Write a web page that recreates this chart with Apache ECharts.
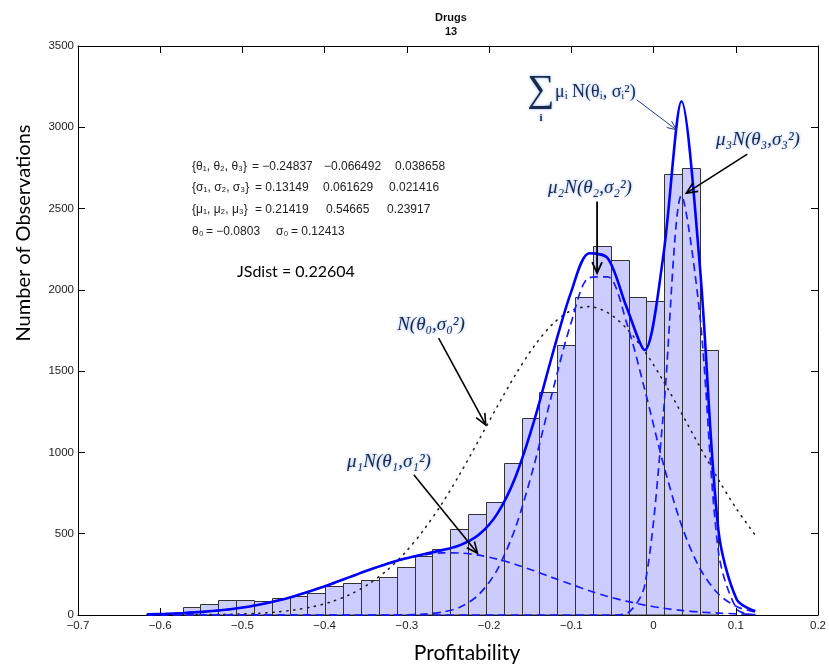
<!DOCTYPE html>
<html><head><meta charset="utf-8">
<script src="https://cdn.jsdelivr.net/npm/echarts@6/dist/echarts.min.js"></script>
<style>html,body{margin:0;padding:0;background:#fff}#c{width:829px;height:664px}</style>
</head><body><div id="c"></div>
<script>
// ---- data ----
const binEdges = [-0.5728,-0.5511,-0.5294,-0.5077,-0.4860,-0.4643,-0.4426,-0.4209,-0.3992,-0.3775,-0.3558,-0.3341,-0.3124,-0.2907,-0.2690,-0.2473,-0.2256,-0.2039,-0.1822,-0.1605,-0.1388,-0.1171,-0.0954,-0.0737,-0.0520,-0.0303,-0.0086,0.0131,0.0348,0.0565,0.0782];
const binCounts = [52,70,92,92,84,106,116,137,177,194,214,235,293,363,406,529,621,693,937,1214,1370,1660,1955,2267,2181,1953,1932,2712,2749,1629];
const xKnots = [-0.6162,-0.5938,-0.5714,-0.5489,-0.5265,-0.5041,-0.4817,-0.4593,-0.4368,-0.4144,-0.3920,-0.3696,-0.3472,-0.3247,-0.3023,-0.2799,-0.2575,-0.2351,-0.2126,-0.1902,-0.1678,-0.1454,-0.1229,-0.1005,-0.0781,-0.0557,-0.0332,-0.0108,0.0116,0.0340,0.0564,0.0789,0.1013,0.1237];
const mixTotal = [4,7,12,19,29,43,62,86,116,152,191,233,275,314,347,374,399,430,493,622,851,1192,1604,1983,2225,2195,1899,1630,2200,3160,2140,520,94,23];
const comp1 = [4,7,12,19,29,43,62,86,116,152,191,233,275,314,346,369,382,381,368,344,311,272,230,189,149,114,85,61,42,28,18,12,7,4];
const comp2 = [0,0,0,0,0,0,0,0,0,0,0,0,0,0,1,5,17,49,125,278,540,920,1374,1794,2075,2080,1805,1388,935,552,286,129,51,18];
const comp3 = [0,0,0,0,0,0,0,0,0,0,0,0,0,0,0,0,0,0,0,0,0,0,0,0,0,0,9,181,1220,2580,1840,390,36,1];
const singleNormal = [0,0,1,2,3,6,10,18,31,51,81,125,188,273,383,521,684,871,1075,1282,1479,1653,1789,1872,1897,1860,1765,1622,1442,1241,1034,833,650,491];
const xTicks = {min:-0.7, max:0.2, step:0.1};
const yTicks = {min:0, max:3500, step:500};

const pairs = arr => xKnots.map((x,i)=>[x, arr[i]]);
const fmtX = v => { const r = Math.round(v*10)/10; if (Math.abs(r) < 1e-9) return '0'; return (r<0?'\u2212':'') + Math.abs(r).toFixed(1); };

const chart = echarts.init(document.getElementById('c'), null, {renderer:'canvas'});
const axisFont = {fontFamily:'Liberation Sans', fontSize:11.5, color:'#222'};
const tickStyle = {show:true, inside:true, length:7, lineStyle:{color:'#000', width:1}};
const lineAx = {show:true, onZero:false, lineStyle:{color:'#000', width:1}};

chart.setOption({
  animation:false,
  backgroundColor:'#fff',
  grid:{left:78, right:4, top:46, bottom:49, containLabel:false},
  xAxis:[
    {type:'value', position:'bottom', min:xTicks.min, max:xTicks.max, interval:xTicks.step, axisLine:lineAx, axisTick:tickStyle, splitLine:{show:false},
     axisLabel:Object.assign({margin:5, formatter:fmtX}, axisFont)},
    {type:'value', position:'top', min:xTicks.min, max:xTicks.max, interval:xTicks.step, axisLine:lineAx, axisTick:tickStyle, splitLine:{show:false}, axisLabel:{show:false}}
  ],
  yAxis:[
    {type:'value', position:'left', min:yTicks.min, max:yTicks.max, interval:yTicks.step, axisLine:lineAx, axisTick:tickStyle, splitLine:{show:false},
     axisLabel:Object.assign({margin:4, formatter:v=>String(v)}, axisFont)},
    {type:'value', position:'right', min:yTicks.min, max:yTicks.max, interval:yTicks.step, axisLine:lineAx, axisTick:tickStyle, splitLine:{show:false}, axisLabel:{show:false}}
  ],
  series:[
    {type:'custom', xAxisIndex:0, yAxisIndex:0, z:1,
     data: binCounts.map((c,i)=>[binEdges[i], binEdges[i+1], c]),
     encode:{x:[0,1], y:2},
     renderItem:(params, api)=>{
       const p0 = api.coord([api.value(0), api.value(2)]);
       const p1 = api.coord([api.value(1), 0]);
       const x0 = Math.round(p0[0])+0.5, x1 = Math.round(p1[0])+0.5, y0 = Math.round(p0[1])+0.5, y1 = p1[1];
       return {type:'rect', shape:{x:x0, y:y0, width:x1-x0, height:y1-y0},
               style:{fill:'#ccccff', stroke:'#333', lineWidth:1}};
     }},
    {type:'line', data:pairs(singleNormal), showSymbol:false, smooth:0.3, z:3,
     lineStyle:{color:'#222', width:1.6, type:[1.2,5.8], cap:'round'}},
    {type:'line', data:pairs(comp1), showSymbol:false, smooth:0.3, z:4,
     lineStyle:{color:'#1a1aff', width:1.7, type:[8,5]}},
    {type:'line', data:pairs(comp2), showSymbol:false, smooth:0.3, z:4,
     lineStyle:{color:'#1a1aff', width:1.7, type:[8,5]}},
    {type:'line', data:pairs(comp3), showSymbol:false, smooth:0.3, z:4,
     lineStyle:{color:'#1a1aff', width:1.7, type:[8,5]}},
    {type:'line', data:pairs(mixTotal), showSymbol:false, smooth:0.3, z:5,
     lineStyle:{color:'#0000ff', width:2.6}}
  ]
});

// ---- annotations ----
const arrowSpecs = [
  {from:[-0.2614,1703], to:[-0.2041,1169], color:'#000', w:1.6, head:11},
  {from:[-0.2916,862],  to:[-0.2141,380],  color:'#000', w:1.6, head:11},
  {from:[-0.0687,2544], to:[-0.0687,2103], color:'#000', w:1.8, head:11},
  {from:[0.1140,2835],  to:[0.0398,2595],  color:'#000', w:1.6, head:11},
  {from:[-0.0205,3169], to:[0.0277,2985],  color:'#1f3a7a', w:1, head:9}
];
function arrow(a, b, color, w, head){
  const dx=b[0]-a[0], dy=b[1]-a[1], L=Math.hypot(dx,dy), ux=dx/L, uy=dy/L, hw=head*0.45;
  const l=[b[0]-ux*head - uy*hw, b[1]-uy*head + ux*hw], r=[b[0]-ux*head + uy*hw, b[1]-uy*head - ux*hw];
  return [
    {type:'line', silent:true, z:20, shape:{x1:a[0],y1:a[1],x2:b[0],y2:b[1]}, style:{stroke:color, lineWidth:w}},
    {type:'polyline', silent:true, z:20, shape:{points:[l,b,r]}, style:{stroke:color, lineWidth:w, fill:null}}
  ];
}
const els = [];
arrowSpecs.forEach(s=>{
  const a = chart.convertToPixel({xAxisIndex:0, yAxisIndex:0}, s.from);
  const b = chart.convertToPixel({xAxisIndex:0, yAxisIndex:0}, s.to);
  els.push(...arrow(a,b,s.color,s.w,s.head));
});
function txt(text, x, y, font, fill, align, extra){
  return {type:'text', silent:true, z:21, style:Object.assign({text, x, y, font, fill,
    align:align||'left', textAlign:align||'left', verticalAlign:'middle', textVerticalAlign:'middle'}, extra||{})};
}
const mathFont = 'italic 19px "Liberation Serif"';
const glow = {textShadowColor:'rgba(90,150,255,0.75)', textShadowBlur:3};
const mathFill = '#1c2a48';
// title
els.push(txt('Drugs', 451, 18, 'bold 11px "Liberation Sans"', '#111', 'center'));
els.push(txt('13', 451, 32, 'bold 11px "Liberation Sans"', '#111', 'center'));
// axis names
els.push(txt('Profitability', 467, 653, '21px Lato', '#000', 'center'));
els.push({type:'text', silent:true, z:21, x:24, y:233, rotation:Math.PI/2,
  style:{text:'Number of Observations', x:0, y:0, font:'20px Lato', fill:'#000', align:'center', textAlign:'center', verticalAlign:'middle', textVerticalAlign:'middle'}});
// parameter text block
const pf = '12px "Liberation Sans"', pc = '#222';
els.push(txt('{\u03b8\u2081, \u03b8\u2082, \u03b8\u2083}', 192, 167, pf, pc));
els.push(txt('= \u22120.24837', 252, 167, pf, pc));
els.push(txt('\u22120.066492', 324, 167, pf, pc));
els.push(txt('0.038658', 395, 167, pf, pc));
els.push(txt('{\u03c3\u2081, \u03c3\u2082, \u03c3\u2083}', 192, 188, pf, pc));
els.push(txt('= 0.13149', 255, 188, pf, pc));
els.push(txt('0.061629', 323, 188, pf, pc));
els.push(txt('0.021416', 389, 188, pf, pc));
els.push(txt('{\u03bc\u2081, \u03bc\u2082, \u03bc\u2083}', 192, 210, pf, pc));
els.push(txt('= 0.21419', 255, 210, pf, pc));
els.push(txt('0.54665', 326, 210, pf, pc));
els.push(txt('0.23917', 387, 210, pf, pc));
els.push(txt('\u03b8\u2080', 192, 232, pf, pc));
els.push(txt('= \u22120.0803', 206, 232, pf, pc));
els.push(txt('\u03c3\u2080', 276, 232, pf, pc));
els.push(txt('= 0.12413', 291, 232, pf, pc));
els.push(txt('JSdist = 0.22604', 237, 272, '16px Lato', '#000'));
// math labels
els.push(txt('N(\u03b8\u2080,\u03c3\u2080\u00b2)', 431, 325, mathFont, mathFill, 'center', glow));
els.push(txt('\u03bc\u2081N(\u03b8\u2081,\u03c3\u2081\u00b2)', 389, 462, mathFont, mathFill, 'center', glow));
els.push(txt('\u03bc\u2082N(\u03b8\u2082,\u03c3\u2082\u00b2)', 590, 188, mathFont, mathFill, 'center', glow));
els.push(txt('\u03bc\u2083N(\u03b8\u2083,\u03c3\u2083\u00b2)', 758, 140, mathFont, mathFill, 'center', glow));
els.push(txt('\u2211', 541, 91, '38px "Liberation Serif"', mathFill, 'center', glow));
els.push(txt('i', 541, 118, 'bold 11px "Liberation Serif"', mathFill, 'center', glow));
els.push(txt('\u03bc\u1d62 N(\u03b8\u1d62, \u03c3\u1d62\u00b2)', 555, 92, '18px "Liberation Serif"', mathFill, 'left', glow));
chart.setOption({graphic:{elements:els}});
</script></body></html>
